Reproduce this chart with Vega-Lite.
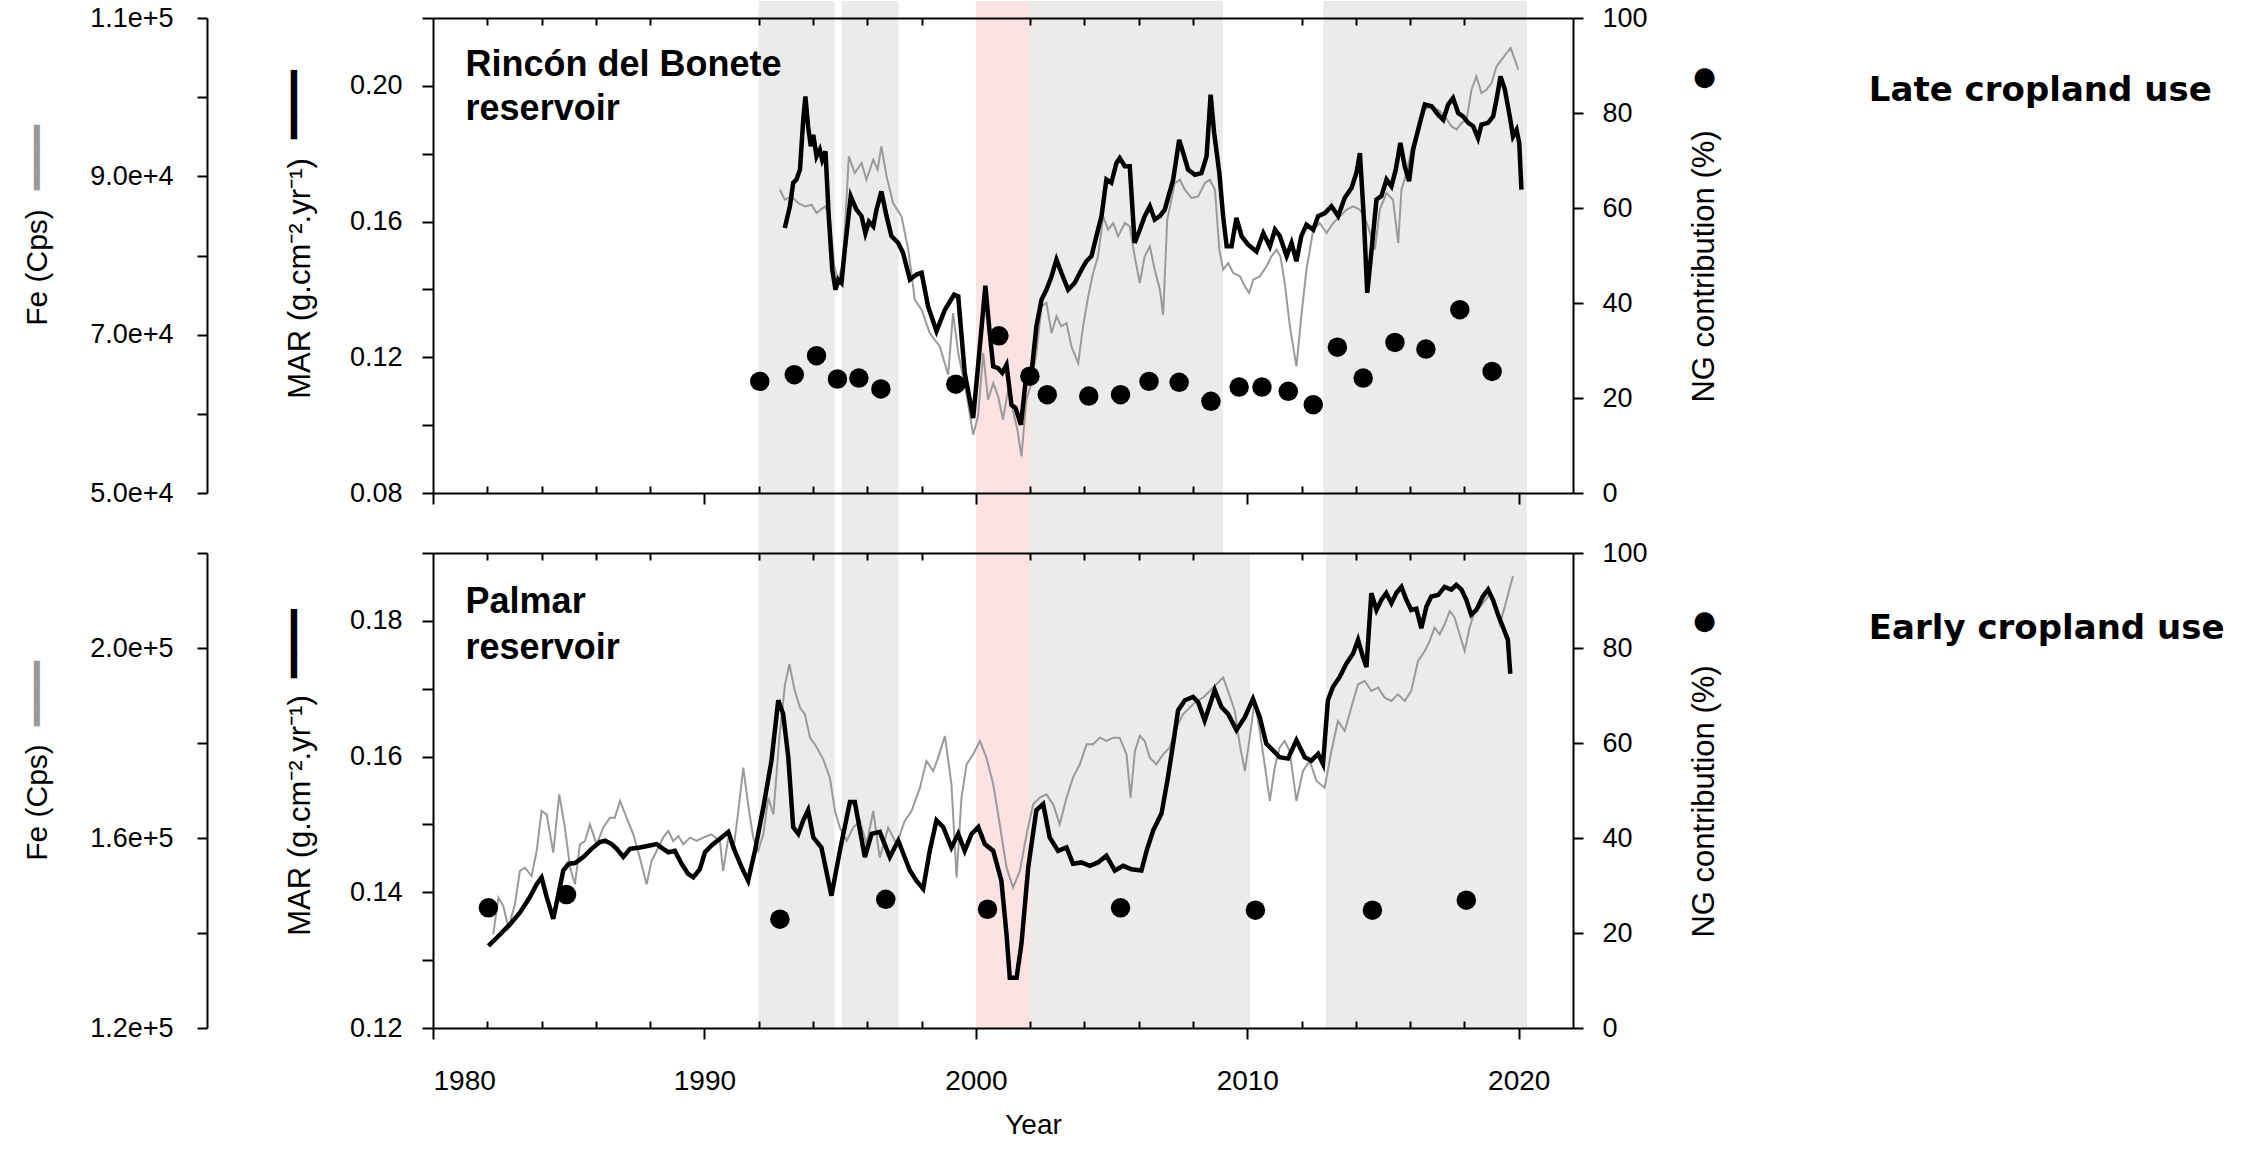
{
  "$schema": "https://vega.github.io/schema/vega-lite/v6.json",
  "background": "white",
  "padding": {"left": 19, "top": 0, "right": 5, "bottom": 5},
  "config": {
    "view": {"stroke": null},
    "font": "Liberation Sans",
    "axis": {"domainColor": "#000", "domainWidth": 2, "tickColor": "#000", "tickWidth": 2, "labelColor": "#000", "titleColor": "#000", "labelFontSize": 27, "titleFontSize": 30, "titleFontWeight": "normal", "grid": false, "labelFont": "Liberation Sans", "titleFont": "Liberation Sans", "zindex": 2}
  },
  "spacing": 60,
  "bounds": "flush",
  "datasets": {
    "bands_top": [{"s": 1992, "e": 1994.8}, {"s": 1995.05, "e": 1997.15}, {"s": 2002, "e": 2009.1}, {"s": 2012.8, "e": 2020.3}],
    "bands_bot": [{"s": 1992, "e": 1994.8}, {"s": 1995.05, "e": 1997.15}, {"s": 2002, "e": 2010.1}, {"s": 2012.9, "e": 2020.3}],
    "red": [{"s": 2000, "e": 2002}],
    "one": [{"k": 1}],
    "mar_top": [
      {"year": 1992.96, "v": 0.1581}, {"year": 1993.15, "v": 0.1645}, {"year": 1993.27, "v": 0.1714}, {"year": 1993.39, "v": 0.1724}, {"year": 1993.52, "v": 0.1753}, {"year": 1993.64, "v": 0.190}, {"year": 1993.72, "v": 0.1969}, {"year": 1993.82, "v": 0.188}, {"year": 1993.92, "v": 0.1822}, {"year": 1994.01, "v": 0.1856}, {"year": 1994.13, "v": 0.1792}, {"year": 1994.25, "v": 0.1812}, {"year": 1994.34, "v": 0.1782}, {"year": 1994.46, "v": 0.1807}, {"year": 1994.58, "v": 0.1616}, {"year": 1994.71, "v": 0.1458}, {"year": 1994.83, "v": 0.1399}, {"year": 1994.93, "v": 0.1429}, {"year": 1995.05, "v": 0.1419}, {"year": 1995.17, "v": 0.1517}, {"year": 1995.39, "v": 0.1674}, {"year": 1995.6, "v": 0.1635}, {"year": 1995.79, "v": 0.1616}, {"year": 1995.93, "v": 0.1566}, {"year": 1996.06, "v": 0.16}, {"year": 1996.22, "v": 0.1586}, {"year": 1996.34, "v": 0.1635}, {"year": 1996.52, "v": 0.1689}, {"year": 1996.71, "v": 0.1616}, {"year": 1996.89, "v": 0.1557}, {"year": 1997.14, "v": 0.1537}, {"year": 1997.32, "v": 0.1507}, {"year": 1997.57, "v": 0.1429}, {"year": 1997.81, "v": 0.1444}, {"year": 1998.0, "v": 0.1449}, {"year": 1998.24, "v": 0.135}, {"year": 1998.55, "v": 0.1277}, {"year": 1998.86, "v": 0.134}, {"year": 1999.2, "v": 0.1385}, {"year": 1999.35, "v": 0.138}, {"year": 1999.59, "v": 0.1154}, {"year": 1999.9, "v": 0.1021}, {"year": 2000.08, "v": 0.1173}, {"year": 2000.35, "v": 0.1411}, {"year": 2000.51, "v": 0.1272}, {"year": 2000.64, "v": 0.1173}, {"year": 2000.82, "v": 0.1168}, {"year": 2000.97, "v": 0.1154}, {"year": 2001.13, "v": 0.1178}, {"year": 2001.31, "v": 0.106}, {"year": 2001.46, "v": 0.1051}, {"year": 2001.66, "v": 0.1001}, {"year": 2001.86, "v": 0.1149}, {"year": 2002.05, "v": 0.1154}, {"year": 2002.23, "v": 0.1291}, {"year": 2002.42, "v": 0.137}, {"year": 2002.6, "v": 0.1399}, {"year": 2002.79, "v": 0.1439}, {"year": 2002.97, "v": 0.1488}, {"year": 2003.15, "v": 0.1449}, {"year": 2003.4, "v": 0.1399}, {"year": 2003.64, "v": 0.1419}, {"year": 2003.89, "v": 0.1458}, {"year": 2004.07, "v": 0.1483}, {"year": 2004.26, "v": 0.1498}, {"year": 2004.44, "v": 0.1557}, {"year": 2004.63, "v": 0.1616}, {"year": 2004.81, "v": 0.1724}, {"year": 2004.99, "v": 0.1714}, {"year": 2005.18, "v": 0.1773}, {"year": 2005.3, "v": 0.1787}, {"year": 2005.49, "v": 0.1763}, {"year": 2005.67, "v": 0.1763}, {"year": 2005.85, "v": 0.1537}, {"year": 2006.04, "v": 0.1576}, {"year": 2006.22, "v": 0.1616}, {"year": 2006.41, "v": 0.1645}, {"year": 2006.59, "v": 0.1606}, {"year": 2006.78, "v": 0.1616}, {"year": 2006.96, "v": 0.1635}, {"year": 2007.27, "v": 0.1724}, {"year": 2007.49, "v": 0.1841}, {"year": 2007.64, "v": 0.1802}, {"year": 2007.82, "v": 0.1753}, {"year": 2008.07, "v": 0.1738}, {"year": 2008.31, "v": 0.1743}, {"year": 2008.5, "v": 0.1792}, {"year": 2008.65, "v": 0.1974}, {"year": 2008.78, "v": 0.1861}, {"year": 2008.97, "v": 0.1743}, {"year": 2009.11, "v": 0.1616}, {"year": 2009.24, "v": 0.1527}, {"year": 2009.42, "v": 0.1527}, {"year": 2009.6, "v": 0.1611}, {"year": 2009.79, "v": 0.1557}, {"year": 2010.03, "v": 0.1532}, {"year": 2010.34, "v": 0.1512}, {"year": 2010.59, "v": 0.1566}, {"year": 2010.83, "v": 0.1527}, {"year": 2011.02, "v": 0.1576}, {"year": 2011.2, "v": 0.1557}, {"year": 2011.45, "v": 0.1498}, {"year": 2011.63, "v": 0.1537}, {"year": 2011.81, "v": 0.1483}, {"year": 2011.99, "v": 0.1557}, {"year": 2012.18, "v": 0.1591}, {"year": 2012.43, "v": 0.1576}, {"year": 2012.61, "v": 0.1616}, {"year": 2012.86, "v": 0.1625}, {"year": 2013.1, "v": 0.1645}, {"year": 2013.35, "v": 0.1616}, {"year": 2013.59, "v": 0.167}, {"year": 2013.84, "v": 0.1699}, {"year": 2014.02, "v": 0.1743}, {"year": 2014.15, "v": 0.1802}, {"year": 2014.29, "v": 0.1616}, {"year": 2014.42, "v": 0.139}, {"year": 2014.58, "v": 0.1517}, {"year": 2014.76, "v": 0.1665}, {"year": 2014.94, "v": 0.1675}, {"year": 2015.13, "v": 0.1724}, {"year": 2015.31, "v": 0.1704}, {"year": 2015.47, "v": 0.1753}, {"year": 2015.64, "v": 0.1832}, {"year": 2015.8, "v": 0.1763}, {"year": 2015.96, "v": 0.1719}, {"year": 2016.11, "v": 0.1812}, {"year": 2016.36, "v": 0.1891}, {"year": 2016.54, "v": 0.1945}, {"year": 2016.79, "v": 0.194}, {"year": 2017.03, "v": 0.1915}, {"year": 2017.22, "v": 0.19}, {"year": 2017.4, "v": 0.1945}, {"year": 2017.58, "v": 0.1964}, {"year": 2017.77, "v": 0.192}, {"year": 2017.95, "v": 0.191}, {"year": 2018.14, "v": 0.1891}, {"year": 2018.32, "v": 0.1881}, {"year": 2018.5, "v": 0.1846}, {"year": 2018.63, "v": 0.1886}, {"year": 2018.87, "v": 0.1891}, {"year": 2019.06, "v": 0.191}, {"year": 2019.18, "v": 0.1959}, {"year": 2019.33, "v": 0.2028}, {"year": 2019.49, "v": 0.1989}, {"year": 2019.67, "v": 0.191}, {"year": 2019.79, "v": 0.1851}, {"year": 2019.92, "v": 0.187}, {"year": 2020.02, "v": 0.1832}, {"year": 2020.1, "v": 0.1694}
    ],
    "fe_top": [
      {"year": 1992.78, "v": 88311}, {"year": 1992.96, "v": 87048}, {"year": 1993.21, "v": 87469}, {"year": 1993.45, "v": 86627}, {"year": 1993.7, "v": 86206}, {"year": 1993.95, "v": 86417}, {"year": 1994.13, "v": 85364}, {"year": 1994.44, "v": 86206}, {"year": 1994.62, "v": 84943}, {"year": 1994.78, "v": 78628}, {"year": 1994.93, "v": 76944}, {"year": 1995.11, "v": 79049}, {"year": 1995.32, "v": 92521}, {"year": 1995.54, "v": 90416}, {"year": 1995.79, "v": 91679}, {"year": 1995.97, "v": 89574}, {"year": 1996.22, "v": 92100}, {"year": 1996.38, "v": 90837}, {"year": 1996.52, "v": 93784}, {"year": 1996.71, "v": 89995}, {"year": 1996.95, "v": 86627}, {"year": 1997.26, "v": 84943}, {"year": 1997.51, "v": 80733}, {"year": 1997.75, "v": 74418}, {"year": 1998.0, "v": 73155}, {"year": 1998.3, "v": 70208}, {"year": 1998.67, "v": 68524}, {"year": 1998.98, "v": 64946}, {"year": 1999.16, "v": 72734}, {"year": 1999.35, "v": 67682}, {"year": 1999.65, "v": 62630}, {"year": 1999.9, "v": 57368}, {"year": 2000.08, "v": 59683}, {"year": 2000.27, "v": 67682}, {"year": 2000.45, "v": 61788}, {"year": 2000.64, "v": 63893}, {"year": 2000.82, "v": 62209}, {"year": 2001.0, "v": 59262}, {"year": 2001.19, "v": 63051}, {"year": 2001.37, "v": 60315}, {"year": 2001.53, "v": 58000}, {"year": 2001.68, "v": 54631}, {"year": 2001.86, "v": 61788}, {"year": 2002.05, "v": 63893}, {"year": 2002.23, "v": 67682}, {"year": 2002.42, "v": 73576}, {"year": 2002.6, "v": 73997}, {"year": 2002.79, "v": 70208}, {"year": 2002.97, "v": 72313}, {"year": 2003.15, "v": 71050}, {"year": 2003.34, "v": 71471}, {"year": 2003.52, "v": 68524}, {"year": 2003.77, "v": 66419}, {"year": 2003.95, "v": 71050}, {"year": 2004.14, "v": 74839}, {"year": 2004.32, "v": 77786}, {"year": 2004.5, "v": 79891}, {"year": 2004.69, "v": 84943}, {"year": 2004.87, "v": 83259}, {"year": 2005.06, "v": 84101}, {"year": 2005.24, "v": 82417}, {"year": 2005.49, "v": 84101}, {"year": 2005.67, "v": 83680}, {"year": 2005.85, "v": 79891}, {"year": 2006.04, "v": 76523}, {"year": 2006.22, "v": 79891}, {"year": 2006.41, "v": 81154}, {"year": 2006.59, "v": 78207}, {"year": 2006.78, "v": 75681}, {"year": 2006.9, "v": 72500}, {"year": 2007.05, "v": 84500}, {"year": 2007.33, "v": 89153}, {"year": 2007.52, "v": 89574}, {"year": 2007.7, "v": 88311}, {"year": 2007.95, "v": 87258}, {"year": 2008.19, "v": 87469}, {"year": 2008.44, "v": 89153}, {"year": 2008.62, "v": 89574}, {"year": 2008.81, "v": 88311}, {"year": 2008.97, "v": 80733}, {"year": 2009.11, "v": 78207}, {"year": 2009.3, "v": 79049}, {"year": 2009.48, "v": 77786}, {"year": 2009.73, "v": 77365}, {"year": 2009.91, "v": 76102}, {"year": 2010.07, "v": 75260}, {"year": 2010.22, "v": 76944}, {"year": 2010.46, "v": 77365}, {"year": 2010.71, "v": 78628}, {"year": 2010.89, "v": 79891}, {"year": 2011.08, "v": 80733}, {"year": 2011.22, "v": 79891}, {"year": 2011.38, "v": 76523}, {"year": 2011.57, "v": 71050}, {"year": 2011.81, "v": 66001}, {"year": 2011.99, "v": 72313}, {"year": 2012.18, "v": 78207}, {"year": 2012.43, "v": 83259}, {"year": 2012.67, "v": 84101}, {"year": 2012.92, "v": 82838}, {"year": 2013.16, "v": 84101}, {"year": 2013.41, "v": 84943}, {"year": 2013.66, "v": 85785}, {"year": 2013.9, "v": 86206}, {"year": 2014.15, "v": 85785}, {"year": 2014.29, "v": 84943}, {"year": 2014.45, "v": 83680}, {"year": 2014.7, "v": 80733}, {"year": 2014.88, "v": 85785}, {"year": 2015.13, "v": 87890}, {"year": 2015.37, "v": 87048}, {"year": 2015.56, "v": 81575}, {"year": 2015.68, "v": 88311}, {"year": 2015.87, "v": 90416}, {"year": 2016.05, "v": 93363}, {"year": 2016.3, "v": 96310}, {"year": 2016.54, "v": 98415}, {"year": 2016.79, "v": 98836}, {"year": 2017.03, "v": 98415}, {"year": 2017.28, "v": 97573}, {"year": 2017.52, "v": 96310}, {"year": 2017.71, "v": 95889}, {"year": 2017.89, "v": 96731}, {"year": 2018.08, "v": 97152}, {"year": 2018.26, "v": 100941}, {"year": 2018.44, "v": 102625}, {"year": 2018.63, "v": 100520}, {"year": 2018.81, "v": 100941}, {"year": 2019.0, "v": 101783}, {"year": 2019.18, "v": 103888}, {"year": 2019.37, "v": 104730}, {"year": 2019.55, "v": 105572}, {"year": 2019.7, "v": 106204}, {"year": 2019.86, "v": 104730}, {"year": 2019.98, "v": 103467}
    ],
    "ng_top": [
      {"year": 1992.04, "v": 23.5}, {"year": 1993.31, "v": 24.9}, {"year": 1994.13, "v": 28.9}, {"year": 1994.9, "v": 24.0}, {"year": 1995.69, "v": 24.2}, {"year": 1996.5, "v": 21.9}, {"year": 1999.26, "v": 22.9}, {"year": 2000.85, "v": 33.1}, {"year": 2001.99, "v": 24.6}, {"year": 2002.63, "v": 20.7}, {"year": 2004.16, "v": 20.4}, {"year": 2005.33, "v": 20.7}, {"year": 2006.38, "v": 23.5}, {"year": 2007.49, "v": 23.3}, {"year": 2008.66, "v": 19.3}, {"year": 2009.7, "v": 22.3}, {"year": 2010.54, "v": 22.3}, {"year": 2011.51, "v": 21.4}, {"year": 2012.43, "v": 18.6}, {"year": 2013.32, "v": 30.7}, {"year": 2014.27, "v": 24.2}, {"year": 2015.44, "v": 31.7}, {"year": 2016.58, "v": 30.3}, {"year": 2017.83, "v": 38.6}, {"year": 2019.02, "v": 25.6}
    ],
    "mar_bot": [
      {"year": 1982.04, "v": 0.1321}, {"year": 1982.35, "v": 0.1333}, {"year": 1982.84, "v": 0.1353}, {"year": 1983.2, "v": 0.137}, {"year": 1983.57, "v": 0.1393}, {"year": 1983.82, "v": 0.1412}, {"year": 1984.0, "v": 0.1422}, {"year": 1984.19, "v": 0.1393}, {"year": 1984.43, "v": 0.1361}, {"year": 1984.62, "v": 0.1397}, {"year": 1984.8, "v": 0.1432}, {"year": 1984.99, "v": 0.1442}, {"year": 1985.23, "v": 0.1443}, {"year": 1985.54, "v": 0.1452}, {"year": 1985.84, "v": 0.1464}, {"year": 1986.15, "v": 0.1474}, {"year": 1986.34, "v": 0.1476}, {"year": 1986.58, "v": 0.1471}, {"year": 1986.77, "v": 0.1464}, {"year": 1987.01, "v": 0.1452}, {"year": 1987.26, "v": 0.1464}, {"year": 1987.62, "v": 0.1466}, {"year": 1987.99, "v": 0.1469}, {"year": 1988.24, "v": 0.1471}, {"year": 1988.48, "v": 0.1464}, {"year": 1988.67, "v": 0.1459}, {"year": 1988.91, "v": 0.1461}, {"year": 1989.16, "v": 0.1442}, {"year": 1989.4, "v": 0.1427}, {"year": 1989.59, "v": 0.1422}, {"year": 1989.83, "v": 0.1434}, {"year": 1990.02, "v": 0.1459}, {"year": 1990.26, "v": 0.1469}, {"year": 1990.57, "v": 0.1479}, {"year": 1990.88, "v": 0.1489}, {"year": 1991.12, "v": 0.1461}, {"year": 1991.37, "v": 0.1437}, {"year": 1991.61, "v": 0.1417}, {"year": 1991.86, "v": 0.1461}, {"year": 1992.17, "v": 0.1525}, {"year": 1992.47, "v": 0.1594}, {"year": 1992.72, "v": 0.1683}, {"year": 1992.9, "v": 0.1663}, {"year": 1993.09, "v": 0.1599}, {"year": 1993.27, "v": 0.1496}, {"year": 1993.46, "v": 0.1486}, {"year": 1993.64, "v": 0.1506}, {"year": 1993.82, "v": 0.1521}, {"year": 1994.01, "v": 0.1481}, {"year": 1994.31, "v": 0.1466}, {"year": 1994.68, "v": 0.1395}, {"year": 1994.99, "v": 0.1461}, {"year": 1995.36, "v": 0.1533}, {"year": 1995.54, "v": 0.1533}, {"year": 1995.91, "v": 0.1452}, {"year": 1996.16, "v": 0.1486}, {"year": 1996.46, "v": 0.1489}, {"year": 1996.83, "v": 0.1452}, {"year": 1997.14, "v": 0.1476}, {"year": 1997.57, "v": 0.1432}, {"year": 1997.81, "v": 0.1417}, {"year": 1998.06, "v": 0.1405}, {"year": 1998.3, "v": 0.1461}, {"year": 1998.55, "v": 0.1506}, {"year": 1998.8, "v": 0.1496}, {"year": 1999.1, "v": 0.1466}, {"year": 1999.35, "v": 0.1486}, {"year": 1999.59, "v": 0.1461}, {"year": 1999.84, "v": 0.1486}, {"year": 2000.09, "v": 0.1496}, {"year": 2000.33, "v": 0.1471}, {"year": 2000.64, "v": 0.1461}, {"year": 2000.94, "v": 0.1417}, {"year": 2001.13, "v": 0.1338}, {"year": 2001.25, "v": 0.1274}, {"year": 2001.5, "v": 0.1274}, {"year": 2001.68, "v": 0.1324}, {"year": 2001.93, "v": 0.1437}, {"year": 2002.23, "v": 0.1521}, {"year": 2002.48, "v": 0.153}, {"year": 2002.72, "v": 0.1481}, {"year": 2003.03, "v": 0.1461}, {"year": 2003.34, "v": 0.1466}, {"year": 2003.58, "v": 0.1442}, {"year": 2003.89, "v": 0.1444}, {"year": 2004.2, "v": 0.1439}, {"year": 2004.5, "v": 0.1444}, {"year": 2004.81, "v": 0.1454}, {"year": 2005.12, "v": 0.1432}, {"year": 2005.43, "v": 0.1439}, {"year": 2005.73, "v": 0.1434}, {"year": 2006.1, "v": 0.1432}, {"year": 2006.29, "v": 0.1461}, {"year": 2006.53, "v": 0.1491}, {"year": 2006.84, "v": 0.1516}, {"year": 2007.08, "v": 0.157}, {"year": 2007.27, "v": 0.1619}, {"year": 2007.45, "v": 0.1668}, {"year": 2007.7, "v": 0.1683}, {"year": 2008.0, "v": 0.1688}, {"year": 2008.19, "v": 0.168}, {"year": 2008.43, "v": 0.1653}, {"year": 2008.8, "v": 0.1698}, {"year": 2009.05, "v": 0.1673}, {"year": 2009.29, "v": 0.1663}, {"year": 2009.6, "v": 0.1639}, {"year": 2009.91, "v": 0.1658}, {"year": 2010.21, "v": 0.1685}, {"year": 2010.46, "v": 0.1658}, {"year": 2010.7, "v": 0.1619}, {"year": 2010.95, "v": 0.1609}, {"year": 2011.19, "v": 0.1599}, {"year": 2011.5, "v": 0.1597}, {"year": 2011.81, "v": 0.1624}, {"year": 2012.12, "v": 0.1599}, {"year": 2012.36, "v": 0.1594}, {"year": 2012.61, "v": 0.1604}, {"year": 2012.79, "v": 0.1589}, {"year": 2012.97, "v": 0.1683}, {"year": 2013.16, "v": 0.1703}, {"year": 2013.4, "v": 0.1717}, {"year": 2013.65, "v": 0.1737}, {"year": 2013.9, "v": 0.1752}, {"year": 2014.08, "v": 0.1772}, {"year": 2014.26, "v": 0.1747}, {"year": 2014.39, "v": 0.1732}, {"year": 2014.57, "v": 0.1841}, {"year": 2014.76, "v": 0.1816}, {"year": 2014.94, "v": 0.1831}, {"year": 2015.12, "v": 0.1841}, {"year": 2015.31, "v": 0.1826}, {"year": 2015.49, "v": 0.1841}, {"year": 2015.68, "v": 0.185}, {"year": 2015.86, "v": 0.1831}, {"year": 2016.04, "v": 0.1816}, {"year": 2016.23, "v": 0.1818}, {"year": 2016.41, "v": 0.1789}, {"year": 2016.6, "v": 0.1821}, {"year": 2016.78, "v": 0.1836}, {"year": 2017.03, "v": 0.1838}, {"year": 2017.27, "v": 0.185}, {"year": 2017.52, "v": 0.1846}, {"year": 2017.7, "v": 0.1853}, {"year": 2017.89, "v": 0.1846}, {"year": 2018.07, "v": 0.1831}, {"year": 2018.25, "v": 0.1809}, {"year": 2018.44, "v": 0.1816}, {"year": 2018.68, "v": 0.1836}, {"year": 2018.87, "v": 0.1846}, {"year": 2019.05, "v": 0.1831}, {"year": 2019.24, "v": 0.1809}, {"year": 2019.42, "v": 0.1791}, {"year": 2019.6, "v": 0.1772}, {"year": 2019.69, "v": 0.1722}
    ],
    "fe_bot": [
      {"year": 1982.22, "v": 139721}, {"year": 1982.41, "v": 147440}, {"year": 1982.59, "v": 145686}, {"year": 1982.78, "v": 141124}, {"year": 1983.02, "v": 146037}, {"year": 1983.2, "v": 153055}, {"year": 1983.39, "v": 153757}, {"year": 1983.63, "v": 152002}, {"year": 1983.82, "v": 157266}, {"year": 1984.0, "v": 165687}, {"year": 1984.19, "v": 164985}, {"year": 1984.43, "v": 156915}, {"year": 1984.65, "v": 169196}, {"year": 1984.86, "v": 162178}, {"year": 1985.05, "v": 153757}, {"year": 1985.23, "v": 150248}, {"year": 1985.41, "v": 158669}, {"year": 1985.6, "v": 159371}, {"year": 1985.78, "v": 162880}, {"year": 1986.03, "v": 158669}, {"year": 1986.27, "v": 162178}, {"year": 1986.52, "v": 164284}, {"year": 1986.7, "v": 164284}, {"year": 1986.89, "v": 167793}, {"year": 1987.13, "v": 164284}, {"year": 1987.38, "v": 160775}, {"year": 1987.62, "v": 155862}, {"year": 1987.87, "v": 150248}, {"year": 1988.05, "v": 155160}, {"year": 1988.24, "v": 157266}, {"year": 1988.48, "v": 160073}, {"year": 1988.67, "v": 161476}, {"year": 1988.85, "v": 159371}, {"year": 1989.04, "v": 160424}, {"year": 1989.22, "v": 158669}, {"year": 1989.47, "v": 160073}, {"year": 1989.71, "v": 159371}, {"year": 1989.96, "v": 160073}, {"year": 1990.26, "v": 160775}, {"year": 1990.57, "v": 159371}, {"year": 1990.69, "v": 153055}, {"year": 1990.88, "v": 160073}, {"year": 1991.06, "v": 157266}, {"year": 1991.25, "v": 165687}, {"year": 1991.43, "v": 174811}, {"year": 1991.61, "v": 167091}, {"year": 1991.8, "v": 160073}, {"year": 1991.98, "v": 157266}, {"year": 1992.17, "v": 160775}, {"year": 1992.35, "v": 168494}, {"year": 1992.54, "v": 164985}, {"year": 1992.76, "v": 181127}, {"year": 1992.97, "v": 192355}, {"year": 1993.13, "v": 196566}, {"year": 1993.33, "v": 190952}, {"year": 1993.52, "v": 187443}, {"year": 1993.7, "v": 186040}, {"year": 1993.89, "v": 181127}, {"year": 1994.07, "v": 179723}, {"year": 1994.38, "v": 176565}, {"year": 1994.62, "v": 172705}, {"year": 1994.81, "v": 165687}, {"year": 1994.99, "v": 162178}, {"year": 1995.24, "v": 159371}, {"year": 1995.48, "v": 162178}, {"year": 1995.73, "v": 163582}, {"year": 1995.97, "v": 158669}, {"year": 1996.22, "v": 165687}, {"year": 1996.46, "v": 155862}, {"year": 1996.77, "v": 162178}, {"year": 1997.08, "v": 158669}, {"year": 1997.38, "v": 163582}, {"year": 1997.63, "v": 165687}, {"year": 1997.94, "v": 170600}, {"year": 1998.18, "v": 176214}, {"year": 1998.43, "v": 174109}, {"year": 1998.61, "v": 176916}, {"year": 1998.86, "v": 181478}, {"year": 1999.1, "v": 171302}, {"year": 1999.29, "v": 151651}, {"year": 1999.47, "v": 168494}, {"year": 1999.66, "v": 175512}, {"year": 1999.9, "v": 177617}, {"year": 2000.15, "v": 180425}, {"year": 2000.39, "v": 176916}, {"year": 2000.64, "v": 171302}, {"year": 2000.88, "v": 162880}, {"year": 2001.13, "v": 153757}, {"year": 2001.37, "v": 149546}, {"year": 2001.62, "v": 153055}, {"year": 2001.87, "v": 160775}, {"year": 2002.11, "v": 167091}, {"year": 2002.36, "v": 168494}, {"year": 2002.6, "v": 169196}, {"year": 2002.85, "v": 167091}, {"year": 2003.09, "v": 162880}, {"year": 2003.34, "v": 168494}, {"year": 2003.58, "v": 172705}, {"year": 2003.83, "v": 175512}, {"year": 2004.08, "v": 179723}, {"year": 2004.32, "v": 179723}, {"year": 2004.57, "v": 181127}, {"year": 2004.81, "v": 180425}, {"year": 2005.06, "v": 181127}, {"year": 2005.3, "v": 181127}, {"year": 2005.55, "v": 177617}, {"year": 2005.7, "v": 168494}, {"year": 2005.86, "v": 178319}, {"year": 2006.04, "v": 181478}, {"year": 2006.22, "v": 180425}, {"year": 2006.41, "v": 176916}, {"year": 2006.65, "v": 175512}, {"year": 2006.9, "v": 177617}, {"year": 2007.14, "v": 179021}, {"year": 2007.39, "v": 183232}, {"year": 2007.63, "v": 186040}, {"year": 2007.88, "v": 187443}, {"year": 2008.13, "v": 188847}, {"year": 2008.37, "v": 189548}, {"year": 2008.62, "v": 190952}, {"year": 2008.86, "v": 192355}, {"year": 2009.11, "v": 193759}, {"year": 2009.29, "v": 190952}, {"year": 2009.54, "v": 186741}, {"year": 2009.72, "v": 179723}, {"year": 2009.91, "v": 174109}, {"year": 2010.09, "v": 181127}, {"year": 2010.27, "v": 188847}, {"year": 2010.46, "v": 182530}, {"year": 2010.64, "v": 175512}, {"year": 2010.83, "v": 167793}, {"year": 2011.01, "v": 174811}, {"year": 2011.19, "v": 179021}, {"year": 2011.38, "v": 180425}, {"year": 2011.56, "v": 178319}, {"year": 2011.81, "v": 167793}, {"year": 2012.05, "v": 174109}, {"year": 2012.3, "v": 176214}, {"year": 2012.55, "v": 172003}, {"year": 2012.85, "v": 170600}, {"year": 2013.1, "v": 178319}, {"year": 2013.34, "v": 184636}, {"year": 2013.59, "v": 182530}, {"year": 2013.83, "v": 187443}, {"year": 2014.08, "v": 192355}, {"year": 2014.33, "v": 193057}, {"year": 2014.57, "v": 190952}, {"year": 2014.82, "v": 191653}, {"year": 2015.06, "v": 189548}, {"year": 2015.31, "v": 188847}, {"year": 2015.55, "v": 190250}, {"year": 2015.8, "v": 188847}, {"year": 2016.04, "v": 190952}, {"year": 2016.29, "v": 197268}, {"year": 2016.54, "v": 199373}, {"year": 2016.72, "v": 201479}, {"year": 2016.9, "v": 204286}, {"year": 2017.09, "v": 202882}, {"year": 2017.27, "v": 204988}, {"year": 2017.46, "v": 207795}, {"year": 2017.64, "v": 206391}, {"year": 2017.82, "v": 202882}, {"year": 2018.01, "v": 199373}, {"year": 2018.19, "v": 204286}, {"year": 2018.38, "v": 207795}, {"year": 2018.56, "v": 208497}, {"year": 2018.75, "v": 209900}, {"year": 2018.93, "v": 211304}, {"year": 2019.11, "v": 209198}, {"year": 2019.3, "v": 204988}, {"year": 2019.48, "v": 208497}, {"year": 2019.64, "v": 212006}, {"year": 2019.79, "v": 215164}
    ],
    "ng_bot": [
      {"year": 1982.04, "v": 25.3}, {"year": 1984.92, "v": 28.1}, {"year": 1992.78, "v": 22.9}, {"year": 1996.68, "v": 27.1}, {"year": 2000.43, "v": 25.0}, {"year": 2005.33, "v": 25.3}, {"year": 2010.3, "v": 24.8}, {"year": 2014.61, "v": 24.8}, {"year": 2018.07, "v": 26.9}
    ]
  },
  "vconcat": [
    {
      "width": 1140,
      "height": 475,
      "layer": [
        {
          "data": {"name": "bands_top"},
          "mark": {"type": "rect", "color": "#ebebeb"},
          "encoding": {
            "x": {"field": "s", "type": "quantitative", "scale": {"domain": [1980, 2022], "nice": false, "zero": false}, "axis": {"orient": "top", "values": [1982, 1984, 1986, 1988, 1992, 1994, 1996, 1998, 2002, 2004, 2006, 2008, 2012, 2014, 2016, 2018], "tickSize": -7, "labels": false, "title": null, "zindex": 2}},
            "x2": {"field": "e"},
            "y": {"datum": -0.127, "type": "quantitative", "scale": {"domain": [0, 1], "nice": false, "zero": false}, "axis": {"orient": "left", "offset": 226, "domain": false, "ticks": false, "labels": false, "title": "━━━", "titleColor": "#9a9a9a", "titleFont": "DejaVu Sans", "titleFontSize": 36, "titleAngle": 270, "titleAlign": "center", "titleBaseline": "middle", "titleX": -170, "titleY": 139}},
            "y2": {"datum": 1.036}
          }
        },
        {
          "data": {"name": "red"},
          "mark": {"type": "rect", "color": "#fbe3e3"},
          "encoding": {
            "x": {"field": "s", "type": "quantitative", "scale": {"domain": [1980, 2022], "nice": false, "zero": false}, "axis": {"orient": "bottom", "values": [1982, 1984, 1986, 1988, 1992, 1994, 1996, 1998, 2002, 2004, 2006, 2008, 2012, 2014, 2016, 2018], "tickSize": -7, "labels": false, "domain": false, "title": null, "zindex": 2}},
            "x2": {"field": "e"},
            "y": {"datum": -0.127, "type": "quantitative", "scale": {"domain": [0, 1], "nice": false, "zero": false}, "axis": {"orient": "left", "domain": false, "ticks": false, "labels": false, "title": "━━━", "titleColor": "#000", "titleFont": "DejaVu Sans", "titleFontSize": 38, "titleAngle": 270, "titleAlign": "center", "titleBaseline": "middle", "titleX": -138, "titleY": 86}},
            "y2": {"datum": 1.036}
          }
        },
        {
          "data": {"name": "fe_top"},
          "mark": {"type": "line", "color": "#9a9a9a", "strokeWidth": 2},
          "encoding": {
            "x": {"field": "year", "type": "quantitative", "scale": {"domain": [1980, 2022], "nice": false, "zero": false}, "axis": {"orient": "bottom", "values": [1980, 1990, 2000, 2010, 2020], "tickSize": 11, "labels": false, "title": null, "zindex": 2}},
            "y": {"field": "v", "type": "quantitative", "scale": {"domain": [50000, 110000], "nice": false, "zero": false}, "axis": {"orient": "left", "offset": 226, "values": [50000, 60000, 70000, 80000, 90000, 100000, 110000], "tickSize": 10, "labelPadding": 24, "labelExpr": "indexof(['5.0e+4','7.0e+4','9.0e+4','1.1e+5'], format(datum.value, '.1e')) >= 0 ? format(datum.value, '.1e') : ''", "title": "Fe (Cps)", "titleAngle": 270, "titleAlign": "center", "titleBaseline": "middle", "titleX": -170, "titleY": 249, "zindex": 2}}
          }
        },
        {
          "data": {"name": "mar_top"},
          "mark": {"type": "line", "color": "#000", "strokeWidth": 4.5},
          "encoding": {
            "x": {"field": "year", "type": "quantitative", "scale": {"domain": [1980, 2022], "nice": false, "zero": false}, "axis": null},
            "y": {"field": "v", "type": "quantitative", "scale": {"domain": [0.08, 0.22], "nice": false, "zero": false}, "axis": {"orient": "left", "values": [0.08, 0.1, 0.12, 0.14, 0.16, 0.18, 0.2, 0.22], "tickSize": 11, "labelPadding": 20, "labelExpr": "indexof(['0.08','0.12','0.16','0.20'], format(datum.value, '.2f')) >= 0 ? format(datum.value, '.2f') : ''", "title": "MAR (g.cm⁻².yr⁻¹)", "titleFontSize": 31, "titleAngle": 270, "titleAlign": "center", "titleBaseline": "middle", "titleX": -133, "titleY": 260, "zindex": 2}}
          }
        },
        {
          "data": {"name": "ng_top"},
          "mark": {"type": "circle", "color": "#000", "size": 380, "opacity": 1},
          "encoding": {
            "x": {"field": "year", "type": "quantitative", "scale": {"domain": [1980, 2022], "nice": false, "zero": false}, "axis": null},
            "y": {"field": "v", "type": "quantitative", "scale": {"domain": [0, 100], "nice": false}, "axis": {"orient": "right", "values": [0, 20, 40, 60, 80, 100], "tickSize": 10, "labelPadding": 19, "title": "NG contribution (%)", "titleFontSize": 31, "titleAngle": 270, "titleAlign": "center", "titleBaseline": "middle", "titleX": 131, "titleY": 248, "zindex": 2}}
          }
        },
        {
          "data": {"name": "one"},
          "mark": {"type": "text", "text": ["Rincón del Bonete", "reservoir"], "font": "Liberation Sans", "fontWeight": "bold", "fontSize": 36, "lineHeight": 44, "align": "left", "baseline": "alphabetic", "color": "#000"},
          "encoding": {
            "x": {"datum": 1981.2, "type": "quantitative", "scale": {"domain": [1980, 2022], "nice": false, "zero": false}, "axis": null},
            "y": {"datum": 0.877, "type": "quantitative", "scale": {"domain": [0, 1], "nice": false, "zero": false}, "axis": null}
          }
        },
        {
          "data": {"name": "one"},
          "mark": {"type": "text", "text": "Late cropland use", "font": "DejaVu Sans", "fontWeight": "bold", "fontSize": 34, "align": "left", "baseline": "middle", "color": "#000"},
          "encoding": {
            "x": {"datum": 2032.9, "type": "quantitative", "scale": {"domain": [1980, 2022], "nice": false, "zero": false}, "axis": null},
            "y": {"datum": 0.846, "type": "quantitative", "scale": {"domain": [0, 1], "nice": false, "zero": false}, "axis": {"orient": "right", "domain": false, "ticks": false, "labels": false, "title": "●", "titleFont": "DejaVu Sans", "titleFontSize": 26, "titleAngle": 0, "titleAlign": "center", "titleBaseline": "middle", "titleX": 131, "titleY": 58}}
          }
        }
      ],
      "resolve": {"scale": {"y": "independent"}, "axis": {"x": "independent", "y": "independent"}}
    },
    {
      "width": 1140,
      "height": 475,
      "layer": [
        {
          "data": {"name": "bands_bot"},
          "mark": {"type": "rect", "color": "#ebebeb"},
          "encoding": {
            "x": {"field": "s", "type": "quantitative", "scale": {"domain": [1980, 2022], "nice": false, "zero": false}, "axis": {"orient": "top", "values": [1982, 1984, 1986, 1988, 1992, 1994, 1996, 1998, 2002, 2004, 2006, 2008, 2012, 2014, 2016, 2018], "tickSize": -7, "labels": false, "title": null, "zindex": 2}},
            "x2": {"field": "e"},
            "y": {"datum": 0, "type": "quantitative", "scale": {"domain": [0, 1], "nice": false, "zero": false}, "axis": {"orient": "left", "offset": 226, "domain": false, "ticks": false, "labels": false, "title": "━━━", "titleColor": "#9a9a9a", "titleFont": "DejaVu Sans", "titleFontSize": 36, "titleAngle": 270, "titleAlign": "center", "titleBaseline": "middle", "titleX": -170, "titleY": 140}},
            "y2": {"datum": 1}
          }
        },
        {
          "data": {"name": "red"},
          "mark": {"type": "rect", "color": "#fbe3e3"},
          "encoding": {
            "x": {"field": "s", "type": "quantitative", "scale": {"domain": [1980, 2022], "nice": false, "zero": false}, "axis": {"orient": "bottom", "values": [1982, 1984, 1986, 1988, 1992, 1994, 1996, 1998, 2002, 2004, 2006, 2008, 2012, 2014, 2016, 2018], "tickSize": -7, "labels": false, "domain": false, "title": null, "zindex": 2}},
            "x2": {"field": "e"},
            "y": {"datum": 0, "type": "quantitative", "scale": {"domain": [0, 1], "nice": false, "zero": false}, "axis": {"orient": "left", "domain": false, "ticks": false, "labels": false, "title": "━━━", "titleColor": "#000", "titleFont": "DejaVu Sans", "titleFontSize": 38, "titleAngle": 270, "titleAlign": "center", "titleBaseline": "middle", "titleX": -138, "titleY": 90}},
            "y2": {"datum": 1}
          }
        },
        {
          "data": {"name": "fe_bot"},
          "mark": {"type": "line", "color": "#9a9a9a", "strokeWidth": 2},
          "encoding": {
            "x": {"field": "year", "type": "quantitative", "scale": {"domain": [1980, 2022], "nice": false, "zero": false}, "axis": {"orient": "bottom", "values": [1980, 1990, 2000, 2010, 2020], "tickSize": 11, "labelPadding": 28, "labelFontSize": 28, "format": "d", "title": "Year", "titleFontSize": 28, "titlePadding": 16, "titleX": 600, "zindex": 2}},
            "y": {"field": "v", "type": "quantitative", "scale": {"domain": [120000, 220000], "nice": false, "zero": false}, "axis": {"orient": "left", "offset": 226, "values": [120000, 140000, 160000, 180000, 200000, 220000], "tickSize": 10, "labelPadding": 24, "labelExpr": "indexof(['1.2e+5','1.6e+5','2.0e+5'], format(datum.value, '.1e')) >= 0 ? format(datum.value, '.1e') : ''", "title": "Fe (Cps)", "titleAngle": 270, "titleAlign": "center", "titleBaseline": "middle", "titleX": -170, "titleY": 249, "zindex": 2}}
          }
        },
        {
          "data": {"name": "mar_bot"},
          "mark": {"type": "line", "color": "#000", "strokeWidth": 4.5},
          "encoding": {
            "x": {"field": "year", "type": "quantitative", "scale": {"domain": [1980, 2022], "nice": false, "zero": false}, "axis": null},
            "y": {"field": "v", "type": "quantitative", "scale": {"domain": [0.12, 0.19], "nice": false, "zero": false}, "axis": {"orient": "left", "values": [0.12, 0.13, 0.14, 0.15, 0.16, 0.17, 0.18, 0.19], "tickSize": 11, "labelPadding": 20, "labelExpr": "indexof(['0.12','0.14','0.16','0.18'], format(datum.value, '.2f')) >= 0 ? format(datum.value, '.2f') : ''", "title": "MAR (g.cm⁻².yr⁻¹)", "titleFontSize": 31, "titleAngle": 270, "titleAlign": "center", "titleBaseline": "middle", "titleX": -133, "titleY": 262, "zindex": 2}}
          }
        },
        {
          "data": {"name": "ng_bot"},
          "mark": {"type": "circle", "color": "#000", "size": 380, "opacity": 1},
          "encoding": {
            "x": {"field": "year", "type": "quantitative", "scale": {"domain": [1980, 2022], "nice": false, "zero": false}, "axis": null},
            "y": {"field": "v", "type": "quantitative", "scale": {"domain": [0, 100], "nice": false}, "axis": {"orient": "right", "values": [0, 20, 40, 60, 80, 100], "tickSize": 10, "labelPadding": 19, "title": "NG contribution (%)", "titleFontSize": 31, "titleAngle": 270, "titleAlign": "center", "titleBaseline": "middle", "titleX": 131, "titleY": 248, "zindex": 2}}
          }
        },
        {
          "data": {"name": "one"},
          "mark": {"type": "text", "text": ["Palmar", "reservoir"], "font": "Liberation Sans", "fontWeight": "bold", "fontSize": 36, "lineHeight": 46, "align": "left", "baseline": "alphabetic", "color": "#000"},
          "encoding": {
            "x": {"datum": 1981.2, "type": "quantitative", "scale": {"domain": [1980, 2022], "nice": false, "zero": false}, "axis": null},
            "y": {"datum": 0.874, "type": "quantitative", "scale": {"domain": [0, 1], "nice": false, "zero": false}, "axis": null}
          }
        },
        {
          "data": {"name": "one"},
          "mark": {"type": "text", "text": "Early cropland use", "font": "DejaVu Sans", "fontWeight": "bold", "fontSize": 34, "align": "left", "baseline": "middle", "color": "#000"},
          "encoding": {
            "x": {"datum": 2032.9, "type": "quantitative", "scale": {"domain": [1980, 2022], "nice": false, "zero": false}, "axis": null},
            "y": {"datum": 0.84, "type": "quantitative", "scale": {"domain": [0, 1], "nice": false, "zero": false}, "axis": {"orient": "right", "domain": false, "ticks": false, "labels": false, "title": "●", "titleFont": "DejaVu Sans", "titleFontSize": 26, "titleAngle": 0, "titleAlign": "center", "titleBaseline": "middle", "titleX": 131, "titleY": 67}}
          }
        }
      ],
      "resolve": {"scale": {"y": "independent"}, "axis": {"x": "independent", "y": "independent"}}
    }
  ]
}
